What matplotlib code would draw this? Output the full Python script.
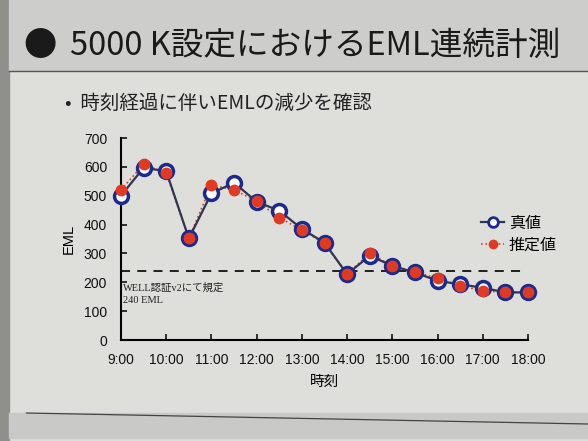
import numpy as np
import matplotlib.pyplot as plt
from matplotlib.patches import Rectangle
from matplotlib.lines import Line2D

# 時刻 (時間) と EML の値
jikan = [9.0, 9.5, 10.0, 10.5, 11.0, 11.5, 12.0, 12.5, 13.0, 13.5,
         14.0, 14.5, 15.0, 15.5, 16.0, 16.5, 17.0, 17.5, 18.0]
shinchi = [500, 597, 585, 352, 508, 545, 479, 448, 385, 337,
           228, 292, 257, 234, 205, 193, 181, 165, 165]
suiteichi = [520, 609, 578, 352, 537, 520, 481, 424, 381, 335,
             229, 300, 257, 236, 214, 188, 170, 165, 165]
kitei = 240
tick_pos = [9, 10, 11, 12, 13, 14, 15, 16, 17, 18]
tick_lbl = ['9:00', '10:00', '11:00', '12:00', '13:00', '14:00',
            '15:00', '16:00', '17:00', '18:00']

jp = ['Noto Sans CJK JP', 'DejaVu Sans']
sans = ['Liberation Sans', 'Noto Sans CJK JP']
serif = ['Liberation Serif', 'Noto Sans CJK JP']

fig = plt.figure(figsize=(5.88, 4.41), dpi=100)
fig.patch.set_facecolor('#dededb')

# スライドの背景 (写真っぽく)
fig.patches.append(Rectangle((0, 0), 0.015, 1, transform=fig.transFigure,
                             color='#8f8f8c', zorder=0))
fig.patches.append(Rectangle((0.015, 1 - 70 / 441), 0.985, 70 / 441,
                             transform=fig.transFigure, color='#cdcdcb', zorder=0))
for yy in np.arange(5, 70, 3):
    fig.lines.append(Line2D([0.015, 1], [1 - yy / 441] * 2, transform=fig.transFigure,
                            color='#bdbdbb', lw=0.5, zorder=0))
fig.lines.append(Line2D([0.015, 1], [1 - 71 / 441] * 2, transform=fig.transFigure,
                        color='#555555', lw=1.0))
fig.patches.append(Rectangle((0.015, 1 - 438 / 441), 0.985, 25 / 441,
                             transform=fig.transFigure, color='#c9c9c7', zorder=0))
fig.lines.append(Line2D([0.045, 1], [1 - 413 / 441, 1 - 424 / 441], transform=fig.transFigure,
                        color='#444444', lw=0.9))

# タイトル
fig.text(40 / 588, 1 - 46 / 441, '●', fontsize=24, color='#1a1a1a',
         ha='center', va='center', family=jp)
fig.text(70 / 588, 1 - 46 / 441, '5000 K設定におけるEML連続計測', fontsize=23.5,
         color='#1a1a1a', ha='left', va='center', family=jp)
fig.text(65 / 588, 1 - 103 / 441, '•  時刻経過に伴いEMLの減少を確認', fontsize=14,
         color='#222222', ha='left', va='center', family=jp)

ax = fig.add_axes([121 / 588, 1 - 340 / 441, 407 / 588, 202 / 441])
ax.set_facecolor('none')

ax.plot(jikan, suiteichi, linestyle=':', color='#d04030', lw=1.2, zorder=2,
        clip_on=False)
ax.plot(jikan, shinchi, '-o', color='#2e3650', lw=1.6, marker='o', ms=10,
        mfc='white', mec='#1b2a8c', mew=2.5, label='真値', zorder=3, clip_on=False)
ax.plot(jikan, suiteichi, linestyle='none', marker='o', ms=7.5, color='#e03a22',
        zorder=4, clip_on=False)
ax.axhline(kitei, color='#111111', lw=1.3, ls=(0, (5, 4)), xmin=0, xmax=0.985, zorder=1)

ax.text(9.05, 200, 'WELL認証v2にて規定\n240 EML', fontsize=7.5, family=serif,
        color='#222222', va='top', ha='left', linespacing=1.5)

ax.set_xlim(9, 18)
ax.set_ylim(0, 700)
ax.set_xticks(tick_pos)
ax.set_xticklabels(tick_lbl)
ax.set_yticks(range(0, 701, 100))
ax.tick_params(direction='in', length=4, width=1.2, labelsize=10, colors='#111111')
ax.tick_params(axis='x', pad=9)
ax.tick_params(axis='y', pad=10)
for lbl in ax.get_xticklabels() + ax.get_yticklabels():
    lbl.set_family(sans)
ax.spines['top'].set_visible(False)
ax.spines['right'].set_visible(False)
ax.spines['left'].set_linewidth(1.5)
ax.spines['bottom'].set_linewidth(1.5)
ax.set_xlabel('時刻', fontsize=10.5, family=jp, labelpad=6)
ax.set_ylabel('EML', fontsize=10.5, family=sans, labelpad=6)

# 凡例
h1 = Line2D([], [], color='#2e3650', lw=1.6, marker='o', ms=7, mfc='white',
            mec='#1b2a8c', mew=2)
h2 = Line2D([], [], color='#d04030', lw=1.2, ls=':', marker='o', ms=6,
            mfc='#e03a22', mec='#e03a22')
leg = ax.legend([h1, h2], ['真値', '推定値'], loc='upper left',
                bbox_to_anchor=(0.87, 0.65), frameon=False,
                prop={'family': jp, 'size': 11.5}, handlelength=1.4,
                handletextpad=0.3, labelspacing=0.3, borderaxespad=0)

fig.savefig('out.png', dpi=100)
